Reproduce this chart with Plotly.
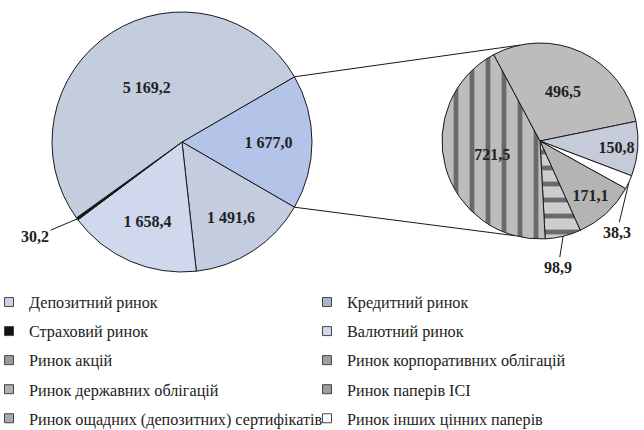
import math
import plotly.graph_objects as go

# ---- data ----
main_labels = ["Депозитний ринок", "Кредитний ринок", "Страховий ринок", "Валютний ринок"]
main_values = [1491.6, 1658.4, 30.2, 5169.2]
other_label = "Ринок цінних паперів"
other_value = 1677.0

sec_labels = ["Ринок акцій", "Ринок корпоративних облігацій", "Ринок державних облігацій",
              "Ринок паперів ІСІ", "Ринок ощадних (депозитних) сертифікатів", "Ринок інших цінних паперів"]
sec_values = [171.1, 98.9, 721.5, 496.5, 150.8, 38.3]

legend_left = ["Депозитний ринок", "Страховий ринок", "Ринок акцій",
               "Ринок державних облігацій", "Ринок ощадних (депозитних) сертифікатів"]
legend_right = ["Кредитний ринок", "Валютний ринок", "Ринок корпоративних облігацій",
                "Ринок паперів ІСІ", "Ринок інших цінних паперів"]

# ---- styles ----
W, H = 644, 430
FONT = "'Liberation Serif', 'Times New Roman', 'DejaVu Serif', serif"
main_colors = ["#b3c4e8", "#c4cce0", "#cfd8ec", "#111111", "#c3cddd"]
sec_colors = ["#b4b4b4", "#cdcdcd", "#bdbdbd", "#bcbcbc", "#c6cbd9", "#ffffff"]
sec_patterns = ["", "-", "|", "", "", ""]
legend_colors = {
    "Депозитний ринок": "#c8d1e6", "Кредитний ринок": "#aab4cc", "Страховий ринок": "#111111",
    "Валютний ринок": "#cfd8ec", "Ринок акцій": "#9a9a9a", "Ринок корпоративних облігацій": "#a0a0a0",
    "Ринок державних облігацій": "#b0b0b0", "Ринок паперів ІСІ": "#9c9c9c",
    "Ринок ощадних (депозитних) сертифікатів": "#a6aab8", "Ринок інших цінних паперів": "#ffffff",
}

main_dom_x = [52 / W, 312 / W]
main_dom_y = [1 - 272 / H, 1 - 12 / H]
sec_dom_x = [442 / W, 638 / W]
sec_dom_y = [1 - 239 / H, 1 - 43 / H]

m_vals = [other_value] + main_values
m_labs = [other_label] + main_labels
m_total = sum(m_vals)
m_rot = 90 - 180 * other_value / m_total
s_total = sum(sec_values)
s_rot = 119

m_pos = ["inside", "inside", "inside", "none", "inside"]
s_pos = ["inside", "none", "inside", "inside", "inside", "none"]

fig = go.Figure()
fig.add_trace(go.Pie(
    labels=m_labs, values=m_vals, sort=False, direction="clockwise", rotation=m_rot,
    domain=dict(x=main_dom_x, y=main_dom_y), showlegend=False,
    marker=dict(colors=main_colors, line=dict(color="#1a1a1a", width=1)),
    texttemplate="<b>%{value:,.1f}</b>", textposition=m_pos, insidetextorientation="horizontal",
    textfont=dict(family=FONT, size=16, color="#222222"), hoverinfo="label+value",
))
fig.add_trace(go.Pie(
    labels=sec_labels, values=sec_values, sort=False, direction="clockwise", rotation=s_rot,
    domain=dict(x=sec_dom_x, y=sec_dom_y), showlegend=False,
    marker=dict(colors=sec_colors, line=dict(color="#1a1a1a", width=1),
                pattern=dict(shape=sec_patterns, fgcolor="#6a6a6a", bgcolor=sec_colors,
                             size=16, solidity=0.3)),
    texttemplate="<b>%{value:,.1f}</b>", textposition=s_pos, insidetextorientation="horizontal",
    textfont=dict(family=FONT, size=16, color="#222222"), hoverinfo="label+value",
))

# legend entries (two columns)
for i, name in enumerate(legend_left):
    fig.add_trace(go.Scatter(x=[None], y=[None], mode="markers", name=name, legend="legend",
                             legendgroup="L%d" % i,
                             marker=dict(symbol="square", size=9, color=legend_colors[name],
                                         line=dict(color="#444444", width=1))))
for i, name in enumerate(legend_right):
    fig.add_trace(go.Scatter(x=[None], y=[None], mode="markers", name=name, legend="legend2",
                             legendgroup="R%d" % i,
                             marker=dict(symbol="square", size=9, color=legend_colors[name],
                                         line=dict(color="#444444", width=1))))

# geometry helpers (pixel space)
def pie_geom(dx, dy):
    x0, x1 = dx[0] * W, dx[1] * W
    y0, y1 = (1 - dy[1]) * H, (1 - dy[0]) * H
    return (x0 + x1) / 2, (y0 + y1) / 2, min(x1 - x0, y1 - y0) / 2

def edge_point(geom, ang_from_top):
    cx, cy, r = geom
    a = math.radians(ang_from_top)
    return cx + r * math.sin(a), cy - r * math.cos(a)

def to_paper(px, py):
    return px / W, 1 - py / H

mg = pie_geom(main_dom_x, main_dom_y)
sg = pie_geom(sec_dom_x, sec_dom_y)

# connector lines between pies
half = 180 * other_value / m_total
p_top = edge_point(mg, 90 - half)
p_bot = edge_point(mg, 90 + half)
q_top = edge_point(sg, -12)
q_bot = edge_point(sg, 195)
shapes = []
for a, b in [(p_top, q_top), (p_bot, q_bot)]:
    ax_, ay_ = to_paper(*a)
    bx_, by_ = to_paper(*b)
    shapes.append(dict(type="line", xref="paper", yref="paper", x0=ax_, y0=ay_, x1=bx_, y1=by_,
                       line=dict(color="#1a1a1a", width=1)))

# outside labels for small slices with leader lines
def mid_angle(vals, rot, idx):
    tot = sum(vals)
    start = rot + 360 * sum(vals[:idx]) / tot
    return start + 180 * vals[idx] / tot

annotations = []
def add_label(geom, vals, rot, idx, dx, dy):
    px, py = edge_point(geom, mid_angle(vals, rot, idx))
    x, y = to_paper(px, py)
    txt = ("%.1f" % vals[idx]).replace(".", ",")
    annotations.append(dict(x=x, y=y, xref="paper", yref="paper", ax=dx, ay=dy,
                            text="<b>%s</b>" % txt, showarrow=True, arrowhead=0, arrowwidth=1,
                            arrowcolor="#1a1a1a",
                            font=dict(family=FONT, size=16, color="#222222")))

add_label(mg, m_vals, m_rot, 3, -42, 18)
add_label(sg, sec_values, s_rot, 5, -12, 50)
add_label(sg, sec_values, s_rot, 1, -5, 31)

LEG_FONT = dict(family=FONT, size=16.2, color="#222222")
fig.update_layout(
    width=W, height=H, margin=dict(l=0, r=0, t=0, b=0, autoexpand=False),
    paper_bgcolor="white", plot_bgcolor="white", separators=", ",
    xaxis=dict(visible=False), yaxis=dict(visible=False),
    shapes=shapes, annotations=annotations,
    legend=dict(x=0, y=1 - 285 / H, xanchor="left", yanchor="top", orientation="v",
                tracegroupgap=5, indentation=-11, font=LEG_FONT, bgcolor="rgba(0,0,0,0)"),
    legend2=dict(x=(347 - 29) / W, y=1 - 285 / H, xanchor="left", yanchor="top", orientation="v",
                 tracegroupgap=5, indentation=-11, font=LEG_FONT, bgcolor="rgba(0,0,0,0)"),
)
fig.write_html("out.html", config={"displayModeBar": False},
               post_script="document.body.style.margin='0';document.body.style.overflow='hidden';")
